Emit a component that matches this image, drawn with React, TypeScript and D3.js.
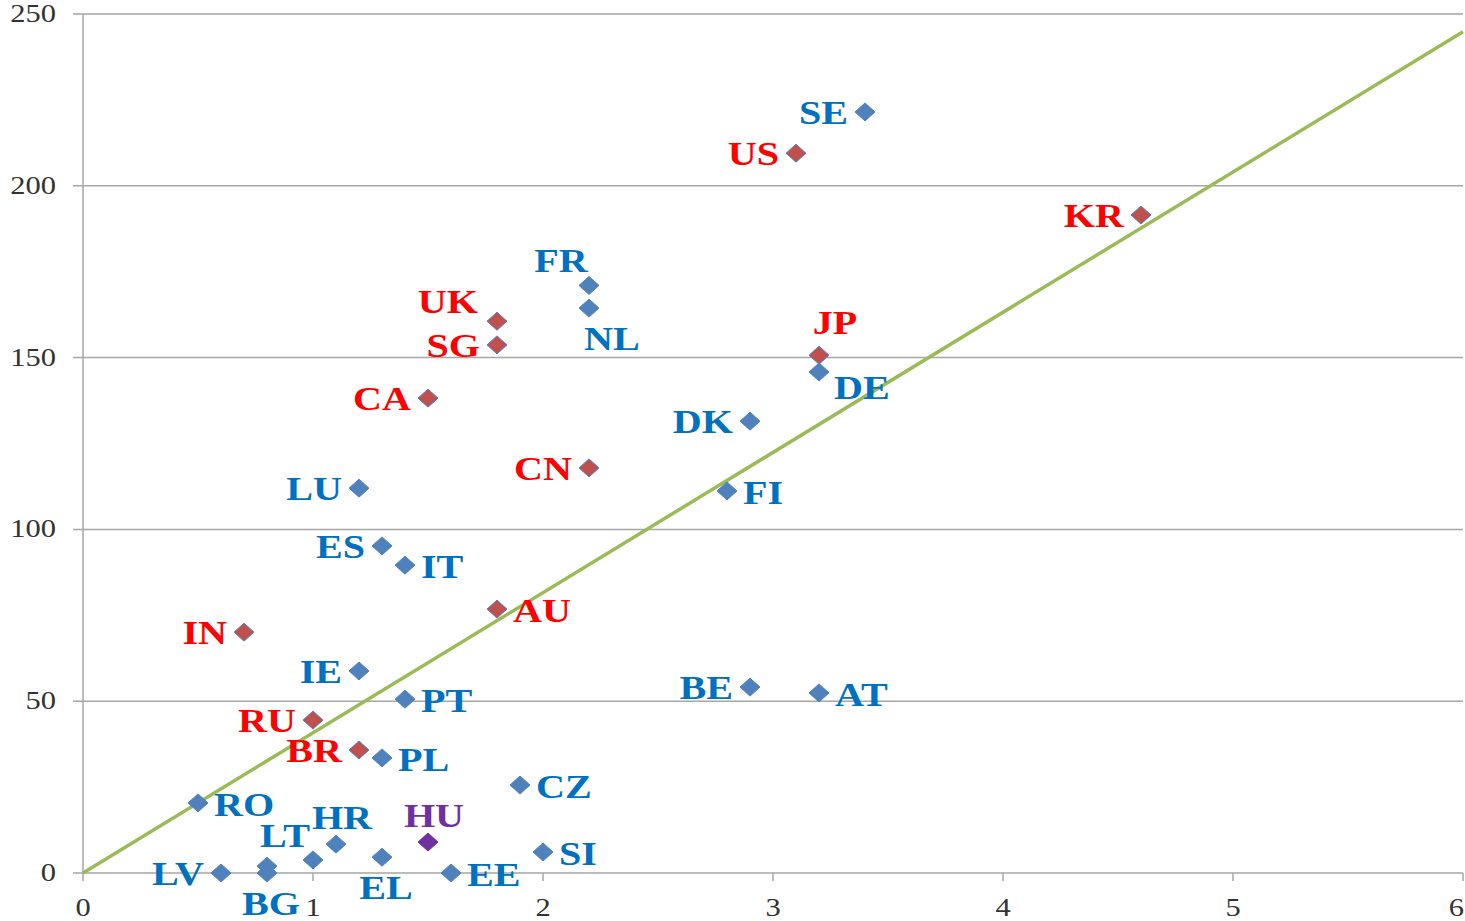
import * as d3 from 'd3';

// values
const countries = ['SE', 'US', 'KR', 'FR', 'NL', 'UK', 'SG', 'JP', 'DE', 'CA', 'DK', 'CN', 'LU', 'FI', 'ES', 'IT', 'AU', 'IN', 'IE', 'BE', 'AT', 'PT', 'RU', 'BR', 'PL', 'CZ', 'RO', 'HU', 'HR', 'LT', 'SI', 'EL', 'LV', 'EE', 'BG', ''];
const xValues = [3.4, 3.1, 4.6, 2.2, 2.2, 1.8, 1.8, 3.2, 3.2, 1.5, 2.9, 2.2, 1.2, 2.8, 1.3, 1.4, 1.8, 0.7, 1.2, 2.9, 3.2, 1.4, 1.0, 1.2, 1.3, 1.9, 0.5, 1.5, 1.1, 1.0, 2.0, 1.3, 0.6, 1.6, 0.8, 0.8];
const yValues = [221.5, 209.5, 191.5, 171, 164.4, 160.6, 153.7, 150.7, 145.8, 138.2, 131.5, 117.9, 112, 111.2, 95.2, 89.6, 76.8, 70.1, 58.8, 54.1, 52.4, 50.6, 44.5, 35.8, 33.5, 25.6, 20.4, 9.0, 8.4, 3.8, 6.1, 4.6, 0, 0, 0, 2.0];
const groups = ['eu', 'other', 'other', 'eu', 'eu', 'other', 'other', 'other', 'eu', 'other', 'eu', 'other', 'eu', 'eu', 'eu', 'eu', 'other', 'other', 'eu', 'eu', 'eu', 'eu', 'other', 'other', 'eu', 'eu', 'eu', 'hu', 'eu', 'eu', 'eu', 'eu', 'eu', 'eu', 'eu', 'eu'];
// where each label sits around its marker
const labelSide = ['L', 'L', 'L', 'AL', 'BL', 'UL', 'L', 'AR', 'BR', 'L', 'L', 'L', 'L', 'R', 'L', 'R', 'R', 'L', 'L', 'L', 'R', 'R', 'L', 'L', 'R', 'R', 'R', 'A', 'A', 'AL', 'R', 'B', 'L', 'R', 'B', 'L'];

const xTicks = [0, 1, 2, 3, 4, 5, 6];
const yTicks = [0, 50, 100, 150, 200, 250];
const trendSlope = 40.8;

const width = 1465;
const height = 921;

const colors: Record<string, { fill: string; stroke: string; text: string }> = {
  eu: { fill: '#4F81BD', stroke: '#4F81BD', text: '#0070C0' },
  other: { fill: '#C0504D', stroke: '#4F81BD', text: '#FF0000' },
  hu: { fill: '#7030A0', stroke: '#7030A0', text: '#7030A0' },
};

const placement: Record<string, { dx: number; dy: number; anchor: string }> = {
  L: { dx: -17, dy: 12, anchor: 'end' },
  R: { dx: 16, dy: 13, anchor: 'start' },
  UL: { dx: -19, dy: -8, anchor: 'end' },
  A: { dx: 6, dy: -15, anchor: 'middle' },
  B: { dx: 4, dy: 42, anchor: 'middle' },
  AL: { dx: -28, dy: -13, anchor: 'middle' },
  AR: { dx: 16, dy: -21, anchor: 'middle' },
  BL: { dx: -5, dy: 42, anchor: 'start' },
  BR: { dx: 15, dy: 27, anchor: 'start' },
};

const serif = '"Liberation Serif", "Times New Roman", serif';

export default function App() {
  const x = d3.scaleLinear([0, 6], [83, 1463]);
  const y = d3.scaleLinear([0, 250], [873, 14]);
  const trend = d3
    .line<number>()
    .x((d) => x(d))
    .y((d) => y(d * trendSlope));

  const diamond = 'M0,-9L10,0L0,9L-10,0Z';

  return (
    <svg width={width} height={height} style={{ position: 'absolute', left: 0, top: 0, background: '#fff' }}>
      {/* grid */}
      {yTicks.map((t) => (
        <g key={'y' + t}>
          <line x1={73} x2={x(6)} y1={y(t)} y2={y(t)} stroke="#A6A6A6" strokeWidth={1.5} />
          <text
            transform={`translate(56,${y(t) + 8}) scale(1.22,1)`}
            textAnchor="end"
            fontFamily={serif}
            fontSize={25}
            fill="#333"
          >
            {t}
          </text>
        </g>
      ))}
      <line x1={x(0)} x2={x(0)} y1={y(250)} y2={y(0)} stroke="#A6A6A6" strokeWidth={1.5} />
      {xTicks.map((t, i) => {
        const last = i === xTicks.length - 1;
        return (
          <g key={'x' + t}>
            <line x1={x(t)} x2={x(t)} y1={y(0)} y2={y(0) + 8} stroke="#A6A6A6" strokeWidth={1.5} />
            <text
              transform={`translate(${last ? width - 1 : x(t)},${y(0) + 43}) scale(1.22,1)`}
              textAnchor={last ? 'end' : 'middle'}
              fontFamily={serif}
              fontSize={25}
              fill="#333"
            >
              {t}
            </text>
          </g>
        );
      })}

      {/* trend line */}
      <path d={trend([0, 6]) ?? ''} fill="none" stroke="#9BBB59" strokeWidth={3.5} />

      {/* points */}
      {countries.map((c, i) => {
        const col = colors[groups[i]];
        const px = x(xValues[i]);
        const py = y(yValues[i]);
        const p = placement[labelSide[i]];
        return (
          <g key={i}>
            <path d={diamond} transform={`translate(${px},${py})`} fill={col.fill} stroke={col.stroke} strokeWidth={1} />
            {c && (
              <text
                transform={`translate(${px + p.dx},${py + p.dy}) scale(1.18,1)`}
                textAnchor={p.anchor}
                fontFamily={serif}
                fontWeight="bold"
                fontSize={34}
                fill={col.text}
              >
                {c}
              </text>
            )}
          </g>
        );
      })}
    </svg>
  );
}
